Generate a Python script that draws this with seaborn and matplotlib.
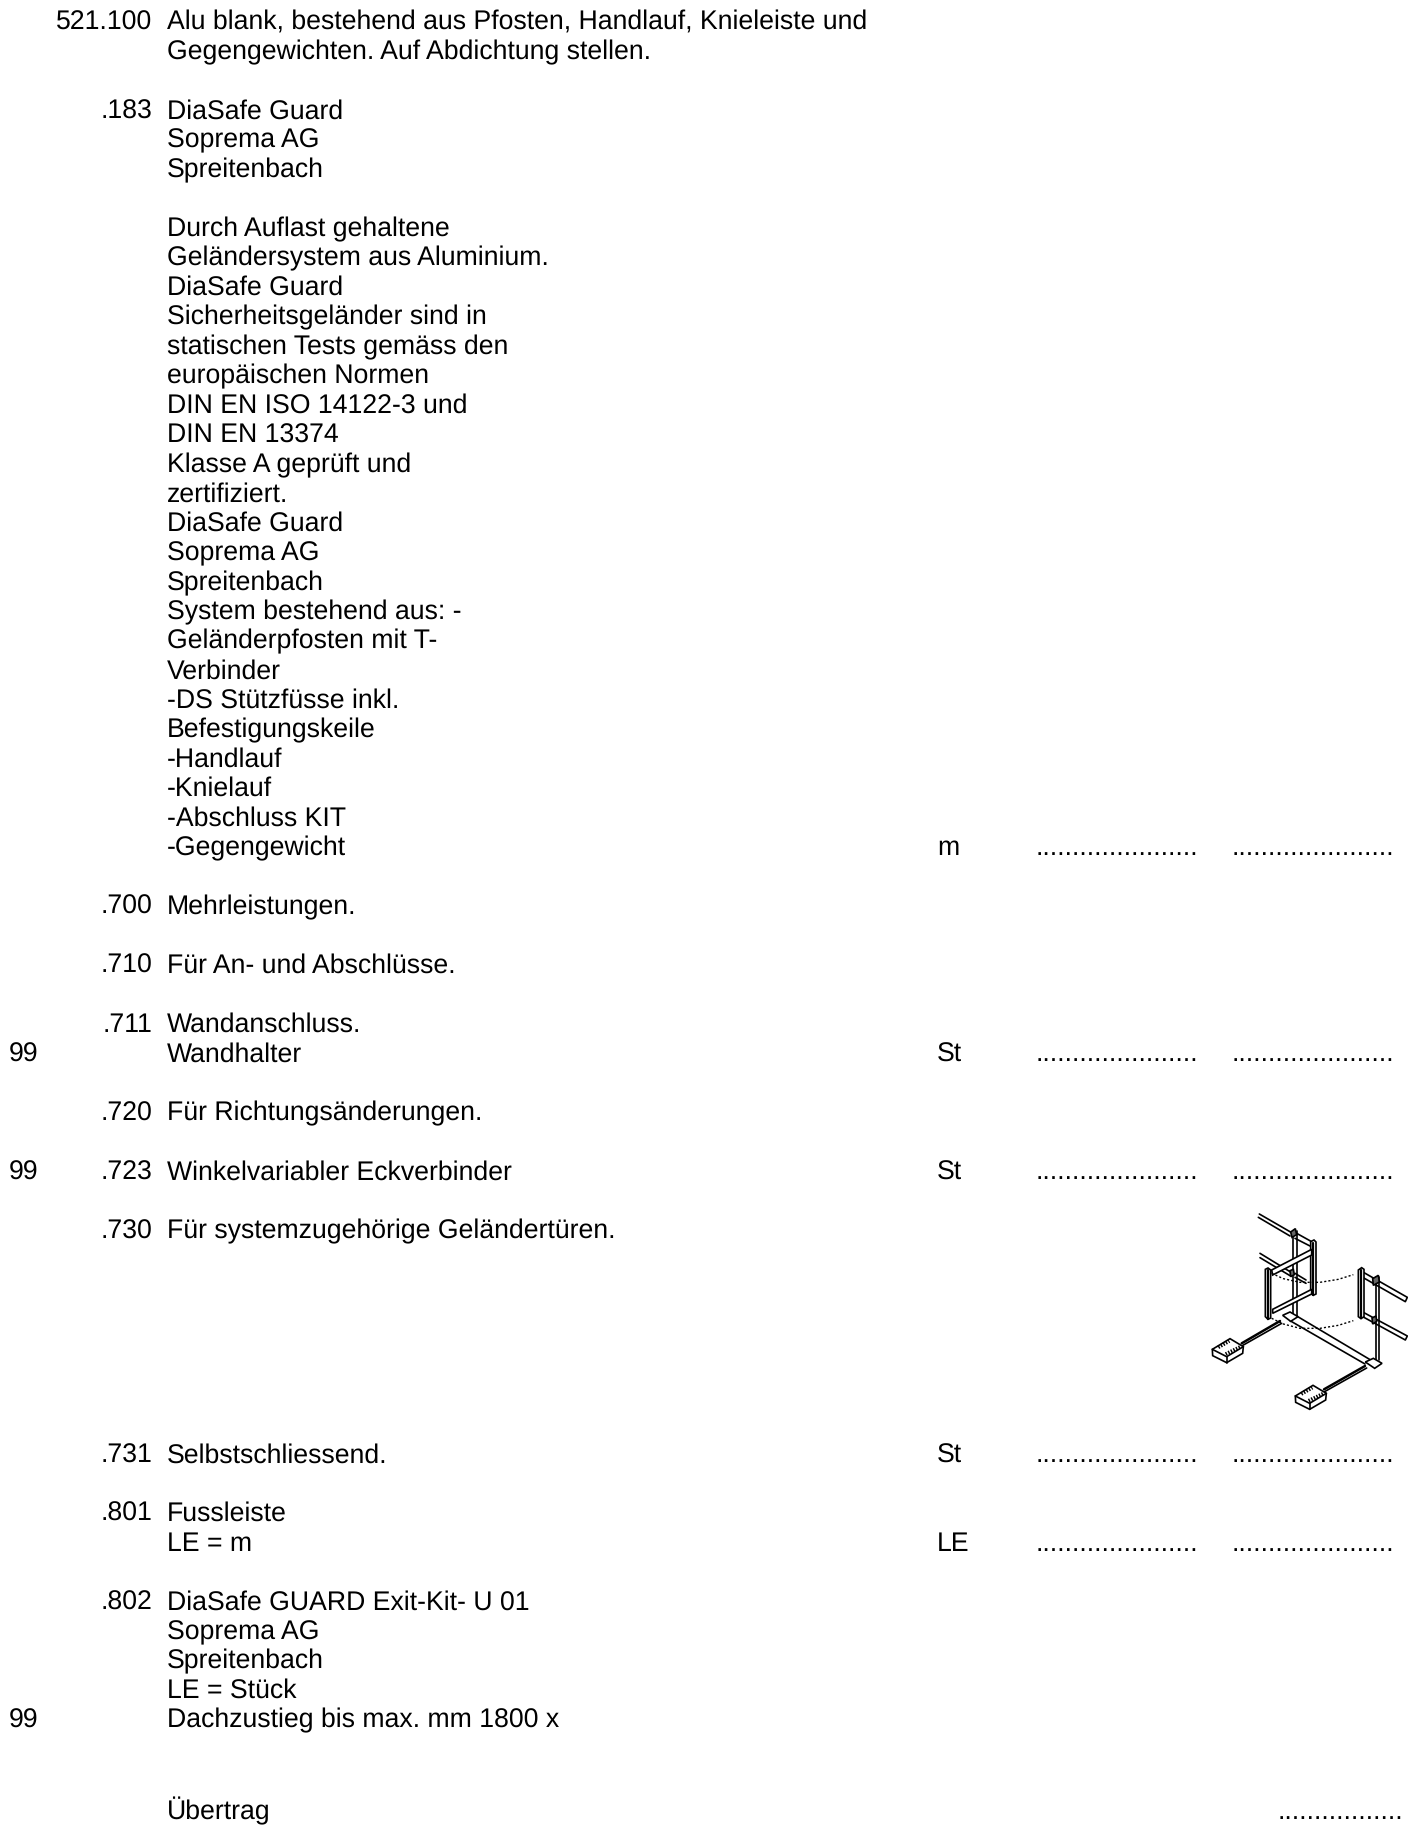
import matplotlib
matplotlib.use("Agg")
import matplotlib.pyplot as plt
import seaborn as sns

sns.set_theme(style="white")
plt.rcParams["font.family"] = ["Liberation Sans", "DejaVu Sans"]
plt.rcParams["text.hinting"] = "none"
plt.rcParams["text.hinting_factor"] = 8

# ---- document content ----
description_lines = [
    "Alu blank, bestehend aus Pfosten, Handlauf, Knieleiste und",
    "Gegengewichten. Auf Abdichtung stellen.",
    "DiaSafe Guard", "Soprema AG", "Spreitenbach",
    "Durch Auflast gehaltene", "Geländersystem aus Aluminium.", "DiaSafe Guard",
    "Sicherheitsgeländer sind in", "statischen Tests gemäss den", "europäischen Normen",
    "DIN EN ISO 14122-3 und", "DIN EN 13374", "Klasse A geprüft und", "zertifiziert.",
    "DiaSafe Guard", "Soprema AG", "Spreitenbach", "System bestehend aus: -",
    "Geländerpfosten mit T-", "Verbinder", "-DS Stützfüsse inkl.", "Befestigungskeile",
    "-Handlauf", "-Knielauf", "-Abschluss KIT", "-Gegengewicht",
    "Mehrleistungen.", "Für An- und Abschlüsse.", "Wandanschluss.", "Wandhalter",
    "Für Richtungsänderungen.", "Winkelvariabler Eckverbinder",
    "Für systemzugehörige Geländertüren.", "Selbstschliessend.",
    "Fussleiste", "LE = m",
    "DiaSafe GUARD Exit-Kit- U 01", "Soprema AG", "Spreitenbach", "LE = Stück",
    "Dachzustieg bis max. mm 1800 x", "Übertrag",
]
description_rows = [
    0, 1, 3, 4, 5, 7, 8, 9, 10, 11, 12, 13, 14, 15, 16, 17, 18, 19, 20, 21, 22, 23,
    24, 25, 26, 27, 28, 30, 32, 34, 35, 37, 39, 41, 48.6, 50.6, 51.6,
    53.6, 54.6, 55.6, 56.6, 57.6, 60.72,
]
item_numbers = ["521.100", ".183", ".700", ".710", ".711", ".720", ".723", ".730",
                ".731", ".801", ".802"]
item_rows = [0, 3, 30, 32, 34, 37, 39, 41, 48.6, 50.6, 53.6]
margin_marks = ["99", "99", "99"]
margin_rows = [35, 39, 57.6]
units = ["m", "St", "St", "St", "LE"]
unit_rows = [28, 35, 39, 48.6, 51.6]
leader = "......................"
carry_leader = "................."
carry_row = 60.72

TOP, PITCH = 30.0, 29.47
base = lambda r: TOP + PITCH * r
FS = 19.15

fig = plt.figure(figsize=(14.08, 18.25), dpi=100, facecolor="white")
ax = fig.add_axes([0, 0, 1, 1])
ax.set_xlim(0, 1408)
ax.set_ylim(1825, 0)
ax.axis("off")
kw = dict(fontsize=FS, color="black", va="baseline")

for s, r in zip(description_lines, description_rows):
    ax.text(167, base(r), s, ha="left", **kw)
for s, r in zip(item_numbers, item_rows):
    ax.text(152.3, base(r), s, ha="right", **kw)
for s, r in zip(margin_marks, margin_rows):
    ax.text(9, base(r), s, ha="left", **kw)
for s, r in zip(units, unit_rows):
    ax.text(937, base(r), s, ha="left", **kw)
    ax.text(1036, base(r), leader, ha="left", **kw)
    ax.text(1232, base(r), leader, ha="left", **kw)
ax.text(1403, base(carry_row), carry_leader, ha="right", **kw)

# ---- line drawing of the railing (crop units of the illustration) ----
ill = fig.add_axes([1180 / 1408, 1 - (1190 + 240) / 1825, 228 / 1408, 240 / 1825])
ill.set_xlim(0, 684)
ill.set_ylim(720, 0)
ill.axis("off")
ill.patch.set_alpha(0)


def line(pts, lw=1.2, ls="-", z=2):
    xs, ys = zip(*pts)
    sns.lineplot(x=list(xs), y=list(ys), sort=False, estimator=None, color="black",
                 lw=lw, ls=ls, ax=ill, legend=False, zorder=z)


def shape(pts, fc="white", lw=1.2, z=3):
    xs, ys = zip(*pts)
    ill.fill(xs, ys, fc=fc, ec="black", lw=lw, zorder=z)


strokes = [
    [(238, 72), (335, 128)], [(235, 82), (330, 138)],
    [(350, 130), (395, 155)], [(345, 145), (390, 168)],
    [(240, 190), (330, 245)], [(240, 203), (330, 257)],
    [(345, 250), (378, 270)], [(345, 262), (378, 280)],
    [(340, 122), (340, 378)], [(350, 122), (350, 378)],
    [(350, 378), (572, 510)], [(330, 392), (555, 522)],
    [(552, 248), (682, 322), (676, 335), (548, 262)],
    [(548, 366), (682, 438), (676, 450), (548, 380)],
    [(587, 262), (587, 510)], [(598, 262), (598, 510)],
]
for s in strokes:
    line(s)
line([(300, 393), (185, 460)], lw=1.8)
line([(305, 400), (185, 468)], lw=1.2)
line([(555, 528), (432, 598)], lw=1.8)
line([(560, 534), (432, 606)], lw=1.2)

shape([(256, 238), (264, 234), (272, 240), (272, 384), (264, 388), (256, 380)])
line([(264, 240), (264, 386)], lw=1.6, z=4)
shape([(392, 155), (402, 150), (408, 156), (408, 312), (400, 316), (392, 310)])
line([(400, 158), (400, 314)], lw=1.6, z=4)
shape([(535, 240), (545, 233), (552, 238), (552, 380), (543, 386), (535, 380)])
line([(544, 240), (544, 384)], lw=1.6, z=4)

door_rails = [
    [(275, 240), (395, 178), (395, 195), (278, 255)],
    [(278, 358), (395, 298), (395, 312), (278, 370)],
]
for d in door_rails:
    shape(d, z=4)

collars = [
    [(332, 126), (346, 116), (350, 134), (336, 142)],
    [(330, 242), (340, 238), (343, 254), (332, 260)],
    [(578, 266), (595, 256), (598, 276), (580, 286)],
    [(576, 384), (588, 378), (590, 394), (578, 402)],
]
for c in collars:
    shape(c, fc="#666666", z=5)

dash = (0, (1.5, 1.5))
line([(275, 250), (310, 266), (360, 277), (420, 277), (475, 268), (520, 254)], ls=dash, lw=1.0, z=5)
line([(275, 385), (310, 402), (360, 415), (420, 415), (475, 406), (520, 392)], ls=dash, lw=1.0, z=5)

shape([(308, 376), (330, 366), (354, 380), (332, 394)])
shape([(556, 516), (580, 505), (606, 520), (584, 535)])

block_outline = [(97, 478), (150, 446), (190, 470), (188, 490), (140, 518), (98, 497)]
block_top = [(97, 478), (140, 500), (190, 470)]
block_edge = [(140, 500), (140, 518)]
block_ribs = [[(115, 472), (148, 453)], [(137, 492), (182, 470)]]
for dx, dy in [(0, 0), (249, 140)]:
    shift = lambda p: [(x + dx, y + dy) for x, y in p]
    shape(shift(block_outline))
    line(shift(block_top), z=4)
    line(shift(block_edge), z=4)
    for rib in block_ribs:
        line(shift(rib), lw=2.6, ls=(0, (0.4, 0.4)), z=4)

fig.savefig("out.png", dpi=100, facecolor="white")
